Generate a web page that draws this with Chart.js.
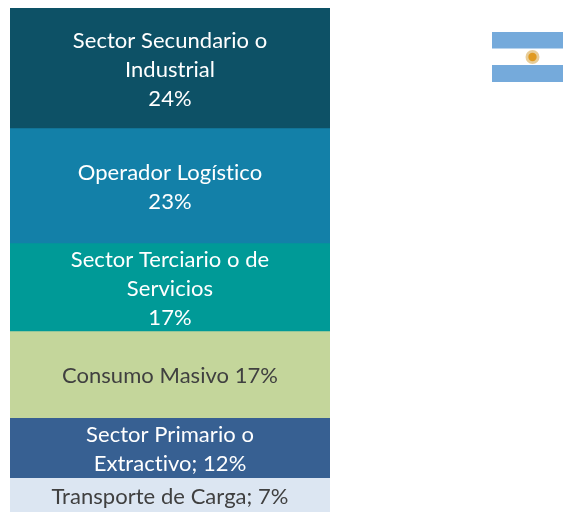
<!DOCTYPE html>
<html><head><meta charset="utf-8">
<style>html,body{margin:0;padding:0;background:#fff;overflow:hidden}#w{position:relative;width:563px;height:512px}canvas{position:absolute;left:0;top:0}svg{position:absolute;left:492px;top:32px;filter:blur(.5px)}</style>
<script src="https://cdn.jsdelivr.net/npm/chart.js@4"></script>
</head><body><div id="w"><canvas id="c" width="563" height="512"></canvas>
<svg width="71" height="50" viewBox="0 0 71 50"><rect width="71" height="16.5" fill="#75AADB"/><rect y="33" width="71" height="17" fill="#75AADB"/><circle cx="40.5" cy="25" r="7" fill="#E2C07E" opacity=".8"/><circle cx="40.5" cy="25" r="4.2" fill="#E09A20"/></svg>
</div>
<script>
const categories=["Sectores"];
const seriesNames=["Sector Secundario o Industrial","Operador Logístico","Sector Terciario o de Servicios","Consumo Masivo","Sector Primario o Extractivo","Transporte de Carga"];
const seriesValues=[23.8,22.8,17.45,17.25,11.9,6.8];
const seriesColors=["#0D5166","#1380A8","#009A97","#C4D69B","#376092","#DCE6F2"];
const labelLines=[["Sector Secundario o","Industrial","24%"],["Operador Logístico","23%"],["Sector Terciario o de","Servicios","17%"],["Consumo Masivo 17%"],["Sector Primario o","Extractivo; 12%"],["Transporte de Carga; 7%"]];
const labelColors=["#fff","#fff","#fff","#404040","#fff","#404040"];
const labelPlugin={id:"stackLabels",afterDatasetsDraw(ch){
  const ctx=ch.ctx;ctx.save();
  ctx.font='22px Lato';ctx.letterSpacing='0.04px';ctx.textAlign='center';ctx.textBaseline='middle';
  ch.data.datasets.forEach((d,i)=>{
    const bar=ch.getDatasetMeta(i).data[0];
    const lines=labelLines[i],lh=29,cy=(bar.y+bar.base)/2+2;
    const cx=(ch.chartArea.left+ch.chartArea.right)/2;
    ctx.fillStyle=labelColors[i];
    lines.forEach((t,k)=>ctx.fillText(t,cx,cy+(k-(lines.length-1)/2)*lh));
  });
  ctx.restore();
}};
new Chart(document.getElementById('c'),{
  type:'bar',
  data:{labels:categories,datasets:seriesNames.map((n,i)=>({label:n,data:[seriesValues[i]],backgroundColor:seriesColors[i],borderWidth:0,stack:'s',barPercentage:1,categoryPercentage:1}))},
  options:{responsive:false,animation:false,
    layout:{padding:{left:10,right:233,top:8,bottom:0}},
    plugins:{legend:{display:false},title:{display:false},tooltip:{enabled:false}},
    scales:{x:{display:false,stacked:true},y:{display:false,stacked:true,reverse:true,min:0,max:100}}
  },
  plugins:[labelPlugin]
});
</script></body></html>
